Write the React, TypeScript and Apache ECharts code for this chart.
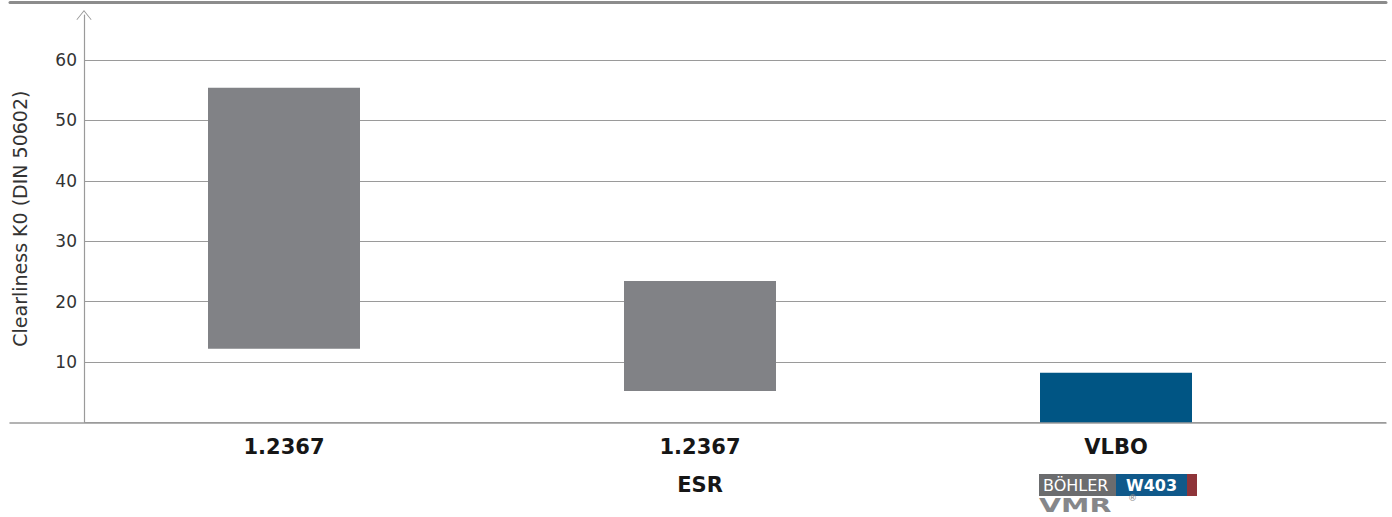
import React, { useEffect, useRef } from "react";
import * as echarts from "echarts";

const categories = ["1.2367", "1.2367\nESR", "VLBO"];
const rangeLow = [12.2, 5.2, 0];
const rangeHigh = [55.4, 23.4, 8.2];
const barColors = ["#818286", "#818286", "#005584"];
const yTicks = { min: 0, max: 60, interval: 10 };
const yAxisName = "Clearliness K0 (DIN 50602)";

const GRID_BOTTOM = 94.7;
const AXIS_GRAY = "#9a9a9a";

export default function App() {
  const ref = useRef<HTMLDivElement>(null);
  useEffect(() => {
    document.body.style.margin = "0";
    const chart = echarts.init(ref.current!, null, { renderer: "svg" });
    const rangeSize = rangeHigh.map((h, i) => +(h - rangeLow[i]).toFixed(2));
    const hiddenAxis = { show: false };
    const option: any = {
      animation: false,
      backgroundColor: "#ffffff",
      grid: [
        { left: 84, right: 6, top: 60, bottom: GRID_BOTTOM },
        { left: 76, width: 1248, top: 60, bottom: GRID_BOTTOM },
        { left: 84, right: 6, top: 15, bottom: GRID_BOTTOM },
        { left: 10, right: 6, top: 2, bottom: GRID_BOTTOM },
      ],
      xAxis: [
        { gridIndex: 0, type: "category", data: categories, ...hiddenAxis },
        {
          gridIndex: 1,
          type: "category",
          data: categories,
          axisLine: { show: false },
          axisTick: { show: false },
          axisLabel: {
            margin: 6,
            fontSize: 21,
            fontWeight: "bold",
            fontFamily: "DejaVu Sans",
            color: "#161616",
            lineHeight: 38,
          },
        },
        { gridIndex: 2, type: "category", data: categories, ...hiddenAxis },
        {
          gridIndex: 3,
          type: "category",
          data: categories,
          position: "bottom",
          axisLine: { show: true, lineStyle: { color: AXIS_GRAY, width: 1.5 } },
          axisTick: { show: false },
          axisLabel: { show: false },
        },
        {
          gridIndex: 3,
          type: "category",
          data: categories,
          position: "top",
          axisLine: { show: true, lineStyle: { color: "#8c8c8c", width: 3 } },
          axisTick: { show: false },
          axisLabel: { show: false },
        },
      ],
      yAxis: [
        {
          gridIndex: 0,
          type: "value",
          min: yTicks.min,
          max: yTicks.max,
          interval: yTicks.interval,
          axisLine: { show: false },
          axisTick: { show: false },
          axisLabel: {
            fontSize: 17,
            fontFamily: "DejaVu Sans",
            color: "#333333",
            margin: 7,
            formatter: (v: number) => (v === 0 ? "" : String(v)),
          },
          splitLine: { show: true, lineStyle: { color: AXIS_GRAY, width: 1.2 } },
        },
        {
          gridIndex: 1,
          type: "value",
          min: yTicks.min,
          max: yTicks.max,
          interval: yTicks.interval,
          show: false,
        },
        {
          gridIndex: 2,
          type: "value",
          min: 0,
          max: 67.5,
          name: yAxisName,
          nameLocation: "middle",
          nameRotate: 90,
          nameGap: 55,
          nameTextStyle: {
            fontSize: 19,
            fontFamily: "DejaVu Sans",
            color: "#333333",
          },
          axisLine: {
            show: true,
            lineStyle: { color: AXIS_GRAY, width: 1.2 },
            symbol: ["none", "path://M0,10 L8,0 L16,10 L15.3,10.6 L8,1.5 L0.7,10.6 Z"],
            symbolSize: [16, 10],
          },
          axisTick: { show: false },
          axisLabel: { show: false },
          splitLine: { show: false },
        },
        { gridIndex: 3, type: "value", show: false },
      ],
      series: [
        {
          type: "bar",
          xAxisIndex: 1,
          yAxisIndex: 1,
          stack: "range",
          barWidth: 152,
          silent: true,
          itemStyle: { color: "transparent" },
          data: rangeLow,
        },
        {
          type: "bar",
          xAxisIndex: 1,
          yAxisIndex: 1,
          stack: "range",
          barWidth: 152,
          data: rangeSize.map((v, i) => ({
            value: v,
            itemStyle: { color: barColors[i] },
          })),
        },
      ],
      graphic: [
        {
          type: "group",
          left: 1039,
          top: 474,
          children: [
            { type: "rect", shape: { x: 0, y: 0, width: 77, height: 22 }, style: { fill: "#6b6c6e" } },
            { type: "rect", shape: { x: 77, y: 0, width: 71, height: 22 }, style: { fill: "#10598a" } },
            { type: "rect", shape: { x: 148, y: 0, width: 10, height: 22 }, style: { fill: "#8e3439" } },
            {
              type: "text",
              x: 4,
              y: 11,
              style: {
                text: "BÖHLER",
                fill: "#ffffff",
                fontSize: 16,
                fontFamily: "DejaVu Sans",
                verticalAlign: "middle",
                align: "left",
              },
            },
            {
              type: "text",
              x: 112.5,
              y: 11,
              style: {
                text: "W403",
                fill: "#ffffff",
                fontSize: 16,
                fontWeight: "bold",
                fontFamily: "DejaVu Sans",
                verticalAlign: "middle",
                align: "center",
              },
            },
            {
              type: "text",
              x: 0,
              y: 22,
              scaleX: 1.5,
              style: {
                text: "VMR",
                fontSize: 19,
                lineHeight: 19,
                fontWeight: "bold",
                fontFamily: "DejaVu Sans",
                verticalAlign: "top",
                align: "left",
                fill: "#86878a",
              },
            },
            {
              type: "text",
              x: 89,
              y: 24,
              style: {
                text: "®",
                fontSize: 9,
                fontFamily: "DejaVu Sans",
                fill: "#888888",
                verticalAlign: "middle",
                align: "left",
              },
            },
          ],
        },
      ],
    };
    chart.setOption(option);
    return () => chart.dispose();
  }, []);
  return <div ref={ref} style={{ width: 1392, height: 517 }} />;
}
